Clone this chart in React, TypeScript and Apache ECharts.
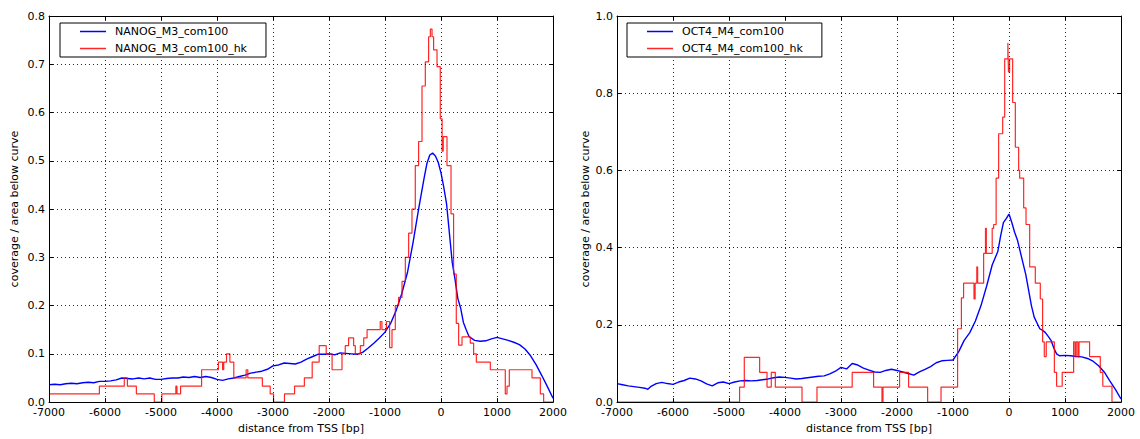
import React, { useEffect, useRef } from "react";
import * as echarts from "echarts";

const xTicksMin = -7000;
const xTicksMax = 2000;
const xTickStep = 1000;

const nanogNames = ["NANOG_M3_com100", "NANOG_M3_com100_hk"];
const oct4Names = ["OCT4_M4_com100", "OCT4_M4_com100_hk"];

const yLabelLeft = "coverage / area below curve";
const xLabel = "distance from TSS [bp]";

const nanogBlue: [number, number][] = [
  [-7000, 0.036], [-6900, 0.037], [-6800, 0.036], [-6700, 0.038], [-6600, 0.039], [-6500, 0.038],
  [-6400, 0.040], [-6300, 0.041], [-6200, 0.040], [-6100, 0.043], [-6000, 0.043], [-5900, 0.044],
  [-5800, 0.046], [-5700, 0.050], [-5600, 0.049], [-5500, 0.048], [-5400, 0.050], [-5300, 0.048],
  [-5200, 0.050], [-5100, 0.047], [-5000, 0.047], [-4900, 0.049], [-4800, 0.050], [-4700, 0.050],
  [-4600, 0.052], [-4500, 0.051], [-4400, 0.053], [-4300, 0.051], [-4200, 0.053], [-4100, 0.051],
  [-4000, 0.047], [-3900, 0.045], [-3800, 0.048], [-3700, 0.050], [-3600, 0.053], [-3500, 0.056],
  [-3400, 0.060], [-3300, 0.062], [-3200, 0.064], [-3100, 0.068], [-3000, 0.075], [-2900, 0.077],
  [-2800, 0.081], [-2700, 0.080], [-2600, 0.079], [-2500, 0.083], [-2400, 0.089], [-2300, 0.094],
  [-2200, 0.099], [-2100, 0.099], [-2000, 0.100], [-1900, 0.098], [-1800, 0.102], [-1700, 0.101],
  [-1600, 0.100], [-1500, 0.099], [-1400, 0.103], [-1300, 0.112], [-1200, 0.122], [-1100, 0.133],
  [-1000, 0.145], [-900, 0.163], [-800, 0.19], [-700, 0.225], [-600, 0.268], [-500, 0.33],
  [-400, 0.40], [-300, 0.465], [-250, 0.495], [-200, 0.512], [-150, 0.516], [-100, 0.51],
  [-50, 0.497], [0, 0.475], [50, 0.445], [100, 0.41], [150, 0.35], [200, 0.29], [250, 0.255],
  [300, 0.215], [350, 0.195], [400, 0.165], [450, 0.15], [500, 0.136], [600, 0.128], [700, 0.126],
  [800, 0.127], [900, 0.131], [1000, 0.134], [1100, 0.131], [1200, 0.128], [1300, 0.124],
  [1400, 0.119], [1500, 0.11], [1600, 0.096], [1700, 0.077], [1800, 0.055], [1900, 0.032], [2000, 0.008],
];

const nanogRed: [number, number][] = [
  [-7000, 0.017], [-6100, 0.033], [-5656, 0.05], [-5600, 0.033], [-5440, 0.017], [-5120, 0],
  [-4985, 0.017], [-4735, 0.033], [-4715, 0.017], [-4650, 0.033], [-4275, 0.067], [-3975, 0.083],
  [-3900, 0.067], [-3880, 0.083], [-3830, 0.1], [-3770, 0.083], [-3700, 0.05], [-3480, 0.067],
  [-3450, 0.05], [-3190, 0.033], [-3050, 0.017], [-2990, 0], [-2795, 0.017], [-2615, 0.033],
  [-2440, 0.05], [-2300, 0.083], [-2175, 0.117], [-2050, 0.1], [-1945, 0.067], [-1768, 0.1],
  [-1710, 0.117], [-1650, 0.133], [-1560, 0.117], [-1530, 0.1], [-1440, 0.117], [-1380, 0.133],
  [-1320, 0.15], [-1085, 0.167], [-1055, 0.15], [-975, 0.167], [-918, 0.113], [-875, 0.15],
  [-816, 0.2], [-757, 0.217], [-696, 0.25], [-637, 0.3], [-578, 0.35], [-518, 0.4], [-459, 0.49],
  [-400, 0.54], [-339, 0.655], [-280, 0.705], [-221, 0.757], [-190, 0.773], [-160, 0.757],
  [-132, 0.73], [-71, 0.695], [-13, 0.587], [20, 0.52], [40, 0.55], [107, 0.49], [179, 0.39],
  [225, 0.265], [273, 0.163], [315, 0.118], [375, 0.135], [523, 0.122], [583, 0.1], [631, 0.083],
  [881, 0.067], [1148, 0.017], [1179, 0.033], [1220, 0.067], [1625, 0.05], [1774, 0.017],
  [1833, 0], [2000, 0],
];

const oct4Blue: [number, number][] = [
  [-7000, 0.048], [-6900, 0.045], [-6800, 0.042], [-6700, 0.040], [-6600, 0.038], [-6500, 0.036],
  [-6450, 0.033], [-6400, 0.040], [-6300, 0.048], [-6200, 0.051], [-6100, 0.048], [-6000, 0.046],
  [-5900, 0.052], [-5800, 0.056], [-5700, 0.062], [-5600, 0.060], [-5500, 0.055], [-5400, 0.047],
  [-5300, 0.042], [-5200, 0.050], [-5100, 0.052], [-5000, 0.048], [-4900, 0.052], [-4800, 0.055],
  [-4700, 0.056], [-4600, 0.055], [-4500, 0.056], [-4400, 0.058], [-4300, 0.060], [-4200, 0.063],
  [-4100, 0.065], [-4000, 0.064], [-3900, 0.062], [-3800, 0.060], [-3700, 0.061], [-3600, 0.063],
  [-3500, 0.065], [-3400, 0.067], [-3300, 0.068], [-3200, 0.073], [-3100, 0.080], [-3000, 0.090],
  [-2900, 0.086], [-2800, 0.100], [-2700, 0.096], [-2600, 0.088], [-2500, 0.083], [-2400, 0.078],
  [-2300, 0.077], [-2200, 0.082], [-2100, 0.085], [-2000, 0.082], [-1900, 0.078], [-1800, 0.074],
  [-1700, 0.070], [-1600, 0.078], [-1500, 0.085], [-1400, 0.092], [-1300, 0.102], [-1200, 0.107],
  [-1100, 0.108], [-1000, 0.109], [-900, 0.13], [-800, 0.16], [-700, 0.18], [-600, 0.21],
  [-500, 0.25], [-400, 0.30], [-300, 0.355], [-200, 0.39], [-150, 0.43], [-100, 0.465],
  [-50, 0.475], [0, 0.487], [50, 0.465], [100, 0.44], [150, 0.42], [200, 0.39], [250, 0.36],
  [300, 0.33], [350, 0.29], [400, 0.25], [450, 0.22], [500, 0.205], [550, 0.19], [600, 0.186],
  [650, 0.18], [700, 0.17], [750, 0.16], [800, 0.14], [850, 0.125], [900, 0.12], [1000, 0.121],
  [1100, 0.12], [1200, 0.118], [1300, 0.117], [1400, 0.113], [1500, 0.106], [1600, 0.094],
  [1700, 0.078], [1800, 0.055], [1900, 0.033], [2000, 0.008],
];

const oct4Red: [number, number][] = [
  [-7000, 0], [-4811, 0.039], [-4727, 0.116], [-4453, 0.077], [-4321, 0.039], [-4245, 0.077],
  [-4173, 0.039], [-3696, 0], [-3429, 0.039], [-2800, 0.077], [-2418, 0.039], [-2268, 0],
  [-2250, 0.039], [-1954, 0.077], [-1793, 0.039], [-1453, 0], [-1214, 0.039], [-918, 0.19],
  [-850, 0.27], [-811, 0.308], [-625, 0.267], [-605, 0.308], [-575, 0.35], [-560, 0.308],
  [-453, 0.385], [-420, 0.45], [-405, 0.385], [-300, 0.45], [-274, 0.46], [-230, 0.58],
  [-185, 0.695], [-113, 0.738], [-77, 0.889], [-20, 0.93], [-10, 0.855], [10, 0.889],
  [65, 0.776], [113, 0.66], [172, 0.6], [190, 0.58], [262, 0.503], [304, 0.46], [369, 0.35],
  [470, 0.308], [559, 0.267], [600, 0.156], [630, 0.118], [665, 0.156], [810, 0.077],
  [850, 0.041], [950, 0.077], [1154, 0.156], [1180, 0.118], [1200, 0.156], [1230, 0.118],
  [1250, 0.156], [1439, 0.118], [1630, 0.077], [1675, 0.041], [1839, 0], [2000, 0],
];

const FONT = "DejaVu Sans";
const BLUE = "#0000ff";
const RED = "rgba(255,0,0,0.85)";

function bottomX(gridIndex: number) {
  return {
    type: "value",
    gridIndex,
    position: "bottom",
    min: xTicksMin,
    max: xTicksMax,
    interval: xTickStep,
    z: 3,
    name: xLabel,
    nameLocation: "middle",
    nameGap: 16,
    nameTextStyle: { fontFamily: FONT, fontSize: 11, color: "#000" },
    axisLine: { show: true, onZero: false, lineStyle: { color: "#000", width: 1 } },
    axisTick: { show: true, inside: true, length: 4, lineStyle: { color: "#000" } },
    axisLabel: {
      margin: 5,
      fontFamily: FONT,
      fontSize: 11,
      color: "#000",
      formatter: (v: number) => String(v),
    },
    splitLine: { show: true, lineStyle: { color: "#000", width: 1, type: [1, 3], opacity: 0.85 } },
  };
}
function topX(gridIndex: number) {
  return {
    type: "value",
    gridIndex,
    position: "top",
    min: xTicksMin,
    max: xTicksMax,
    interval: xTickStep,
    z: 3,
    axisLine: { show: true, onZero: false, lineStyle: { color: "#000", width: 1 } },
    axisTick: { show: true, inside: true, length: 4, lineStyle: { color: "#000" } },
    axisLabel: { show: false },
    splitLine: { show: false },
  };
}
function leftY(gridIndex: number, max: number, interval: number, nameGap: number) {
  return {
    type: "value",
    gridIndex,
    position: "left",
    min: 0,
    max,
    interval,
    z: 3,
    name: yLabelLeft,
    nameLocation: "middle",
    nameRotate: 90,
    nameGap,
    nameTextStyle: { fontFamily: FONT, fontSize: 11, color: "#000" },
    axisLine: { show: true, onZero: false, lineStyle: { color: "#000", width: 1 } },
    axisTick: { show: true, inside: true, length: 4, lineStyle: { color: "#000" } },
    axisLabel: {
      margin: 4,
      fontFamily: FONT,
      fontSize: 11,
      color: "#000",
      formatter: (v: number) => v.toFixed(1),
    },
    splitLine: { show: true, lineStyle: { color: "#000", width: 1, type: [1, 3], opacity: 0.85 } },
  };
}
function rightY(gridIndex: number, max: number, interval: number) {
  return {
    type: "value",
    gridIndex,
    position: "right",
    min: 0,
    max,
    interval,
    z: 3,
    axisLine: { show: true, onZero: false, lineStyle: { color: "#000", width: 1 } },
    axisTick: { show: true, inside: true, length: 4, lineStyle: { color: "#000" } },
    axisLabel: { show: false },
    splitLine: { show: false },
  };
}
function legendAt(left: number, names: string[]) {
  return {
    data: [
      { name: names[0], icon: "rect", itemStyle: { color: BLUE } },
      { name: names[1], icon: "rect", itemStyle: { color: RED } },
    ],
    left,
    top: 23,
    orient: "vertical",
    selectedMode: false,
    itemWidth: 26,
    itemHeight: 1.5,
    itemGap: 4,
    padding: [2, 19, 2, 20],
    borderColor: "#000",
    borderWidth: 1,
    borderRadius: 0,
    backgroundColor: "#fff",
    z: 6,
    textStyle: {
      fontFamily: FONT,
      fontSize: 11,
      lineHeight: 13,
      color: "#000",
      padding: [0, 0, 0, 4],
    },
  };
}
function lineSeries(name: string, data: [number, number][], color: string, idx: number, step: boolean, width: number) {
  return {
    type: "line",
    name,
    data,
    xAxisIndex: idx,
    yAxisIndex: idx,
    symbol: "none",
    showSymbol: false,
    step: step ? "end" : undefined,
    lineStyle: { color, width },
    itemStyle: { color },
    z: 2,
    animation: false,
  };
}

export default function App() {
  const ref = useRef<HTMLDivElement>(null);
  useEffect(() => {
    if (!ref.current) return;
    const chart = echarts.init(ref.current, null, { renderer: "svg" });
    chart.setOption({
      animation: false,
      backgroundColor: "#fff",
      textStyle: { fontFamily: FONT },
      grid: [
        { left: 49, right: 587, top: 16, bottom: 33 },
        { left: 617, right: 19, top: 16, bottom: 33 },
      ],
      xAxis: [bottomX(0), topX(0), bottomX(1), topX(1)],
      yAxis: [leftY(0, 0.8, 0.1, 29), rightY(0, 0.8, 0.1), leftY(1, 1.0, 0.2, 26), rightY(1, 1.0, 0.2)],
      legend: [legendAt(60, nanogNames), legendAt(627, oct4Names)],
      series: [
        lineSeries(nanogNames[0], nanogBlue, BLUE, 0, false, 1.4),
        lineSeries(nanogNames[1], nanogRed, RED, 0, true, 1.2),
        lineSeries(oct4Names[0], oct4Blue, BLUE, 2, false, 1.4),
        lineSeries(oct4Names[1], oct4Red, RED, 2, true, 1.2),
      ],
    });
    return () => chart.dispose();
  }, []);
  return (
    <div
      ref={ref}
      style={{ position: "absolute", left: 0, top: 0, width: 1140, height: 439, background: "#fff" }}
    />
  );
}
